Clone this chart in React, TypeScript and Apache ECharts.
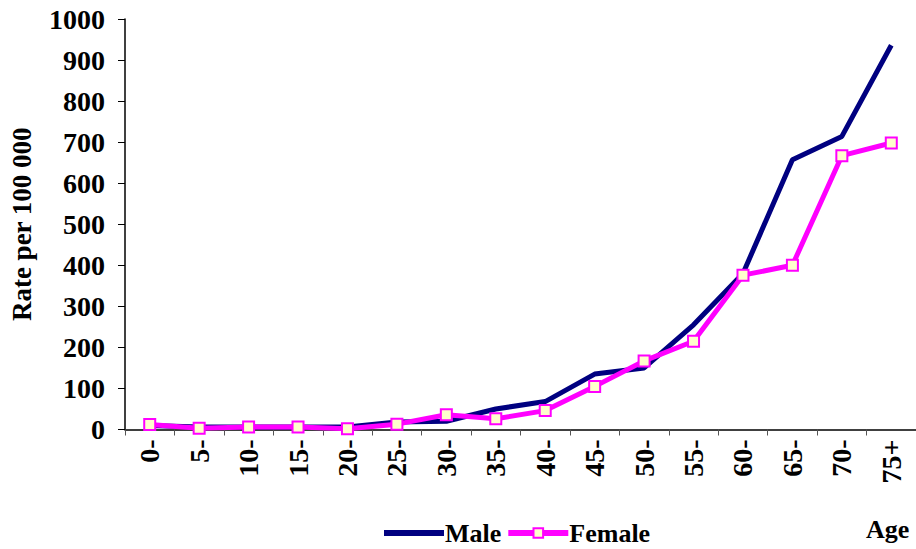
import React, { useEffect, useRef } from "react";
import * as echarts from "echarts";

const categories = ["0-", "5-", "10-", "15-", "20-", "25-", "30-", "35-", "40-", "45-", "50-", "55-", "60-", "65-", "70-", "75+"];
const maleValues = [10, 6, 6, 6, 6, 18, 20, 50, 68, 135, 150, 255, 380, 657, 714, 936];
const femaleValues = [12, 3, 6, 6, 2, 13, 36, 26, 46, 105, 167, 215, 376, 400, 667, 698];
const yTicks = { min: 0, max: 1000, interval: 100 };

const FONT = "'Liberation Serif', 'Times New Roman', serif";

export default function App() {
  const ref = useRef<HTMLDivElement>(null);
  useEffect(() => {
    document.body.style.margin = "0";
    if (!ref.current) return;
    const chart = echarts.init(ref.current, undefined, { renderer: "svg" });
    chart.setOption({
      animation: false,
      backgroundColor: "#ffffff",
      textStyle: { fontFamily: FONT, fontWeight: "bold", color: "#000" },
      grid: { left: 123, right: 0, top: 19, bottom: 119.5, containLabel: false },
      legend: {
        bottom: -2,
        left: 376,
        itemWidth: 60,
        itemHeight: 12,
        itemGap: 4,
        textStyle: { fontFamily: FONT, fontWeight: "bold", fontSize: 26, color: "#000", padding: [0, 0, 0, -4] },
        data: [
          {
            name: "Male",
            lineStyle: { width: 6, color: "#000080" },
            itemStyle: { color: "rgba(0,0,0,0)", borderWidth: 0, opacity: 0 },
          },
          { name: "Female", lineStyle: { width: 6, color: "#FF00FF" } },
        ],
      },
      xAxis: {
        type: "category",
        data: categories,
        boundaryGap: true,
        axisLine: { lineStyle: { color: "#000", width: 1.5 } },
        axisTick: { show: true, inside: false, length: 6, lineStyle: { color: "#555" } },
        axisLabel: {
          rotate: 90,
          margin: 10,
          interval: 0,
          fontFamily: FONT,
          fontWeight: "bold",
          fontSize: 28,
          color: "#000",
        },
      },
      yAxis: {
        type: "value",
        min: yTicks.min,
        max: yTicks.max,
        interval: yTicks.interval,
        splitLine: { show: false },
        axisLine: { show: true, lineStyle: { color: "#000", width: 1.5 } },
        axisTick: { show: true, inside: false, length: 7, lineStyle: { color: "#000" } },
        axisLabel: {
          margin: 20,
          fontFamily: FONT,
          fontWeight: "bold",
          fontSize: 28,
          color: "#000",
          formatter: (v: number) => String(v),
        },
        name: "Rate per 100 000",
        nameLocation: "middle",
        nameRotate: 90,
        nameGap: 90,
        nameTextStyle: { fontFamily: FONT, fontWeight: "bold", fontSize: 27, color: "#000" },
      },
      graphic: [
        {
          type: "text",
          left: 866,
          top: 516,
          style: { text: "Age", fontFamily: FONT, fontWeight: "bold", fontSize: 26, fill: "#000" },
        },
      ],
      series: [
        {
          name: "Male",
          type: "line",
          data: maleValues,
          showSymbol: false,
          symbol: "none",
          lineStyle: { color: "#000080", width: 5 },
          itemStyle: { color: "#000080" },
        },
        {
          name: "Female",
          type: "line",
          data: femaleValues,
          symbol: "rect",
          symbolSize: 11,
          lineStyle: { color: "#FF00FF", width: 5 },
          itemStyle: { color: "#FFFFCC", borderColor: "#FF00FF", borderWidth: 2 },
        },
      ],
    });
    return () => chart.dispose();
  }, []);
  return <div ref={ref} style={{ width: 916, height: 549 }} />;
}
